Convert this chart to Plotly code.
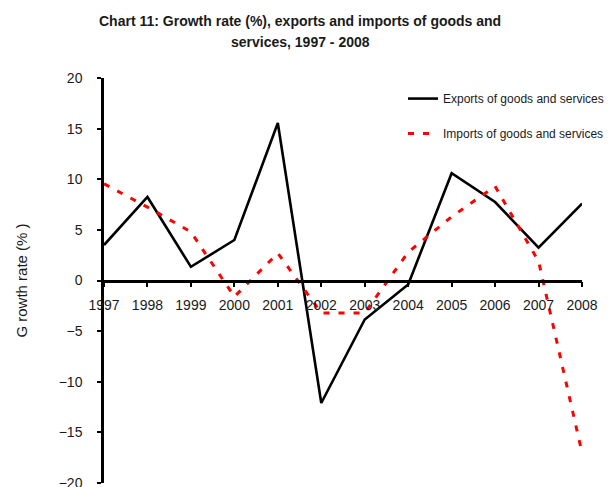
import plotly.graph_objects as go

years = [1997, 1998, 1999, 2000, 2001, 2002, 2003, 2004, 2005, 2006, 2007, 2008]
exports_growth = [3.5, 8.25, 1.35, 4.0, 15.55, -12.1, -3.85, -0.4, 10.6, 7.75, 3.25, 7.6]
imports_growth = [9.55, 7.25, 4.8, -1.6, 2.7, -3.2, -3.2, 2.8, 6.3, 9.3, 1.9, -17.0]
y_ticks = [-20, -15, -10, -5, 0, 5, 10, 15, 20]
title_lines = ["Chart 11: Growth rate (%), exports and imports of goods and",
               "services, 1997 - 2008"]

TEXT = "#1a1a1a"
ARIAL = "Liberation Sans, Arial, sans-serif"

W, H = 613, 487
ML, MR, MT, MB = 104, 31, 78, 4
plot_h = H - MT - MB


def paper_y(px):
    """Convert a pixel row (from the top) into paper coordinates."""
    return (H - MB - px) / plot_h


def paper_x(px):
    return (px - ML) / (W - ML - MR)


fig = go.Figure()
fig.add_trace(go.Scatter(
    x=years, y=exports_growth, mode="lines",
    name="Exports of goods and services", legendgroup="exp",
    line=dict(color="black", width=2.6),
))
fig.add_trace(go.Scatter(
    x=years, y=imports_growth, mode="lines",
    name="Imports of goods and services", legendgroup="imp",
    line=dict(color="#ff0000", width=3, dash="6px,9px"),
))

# two-line bold title
for text, row in zip(title_lines, [21, 42]):
    fig.add_annotation(
        text=text, xref="paper", yref="paper",
        x=paper_x(300), y=paper_y(row), xanchor="center", yanchor="middle",
        showarrow=False,
        font=dict(family=ARIAL, size=14, color=TEXT, weight="bold"),
    )

fig.update_layout(
    width=W, height=H,
    margin=dict(l=ML, r=MR, t=MT, b=MB),
    paper_bgcolor="white", plot_bgcolor="white",
    legend=dict(
        x=paper_x(403), y=0.985, xanchor="left", yanchor="top",
        bgcolor="rgba(0,0,0,0)",
        font=dict(family=ARIAL, size=12, color=TEXT),
        tracegroupgap=16,
    ),
    showlegend=True,
)

fig.update_xaxes(
    range=[1997, 2008],
    tickmode="array", tickvals=years, ticktext=[str(y) for y in years],
    showgrid=False, zeroline=False,
    showline=True, linecolor="black", linewidth=2.5,
    ticks="outside", ticklen=5, tickwidth=2, tickcolor="black",
    tickfont=dict(family=ARIAL, size=14, color=TEXT),
    ticklabelstandoff=6,
    anchor="free", position=0.5, automargin=False,
)
fig.update_yaxes(
    range=[-20, 20],
    tickmode="array", tickvals=y_ticks,
    showgrid=False, zeroline=False,
    showline=True, linecolor="black", linewidth=2.5,
    ticks="outside", ticklen=4, tickwidth=2, tickcolor="black",
    tickfont=dict(family=ARIAL, size=14, color=TEXT),
    ticklabelstandoff=12, ticklabeloverflow="allow", automargin=False,
    title=dict(text="G rowth rate (% )", font=dict(family=ARIAL, size=15, color=TEXT), standoff=28),
)

fig.write_html("out.html")
